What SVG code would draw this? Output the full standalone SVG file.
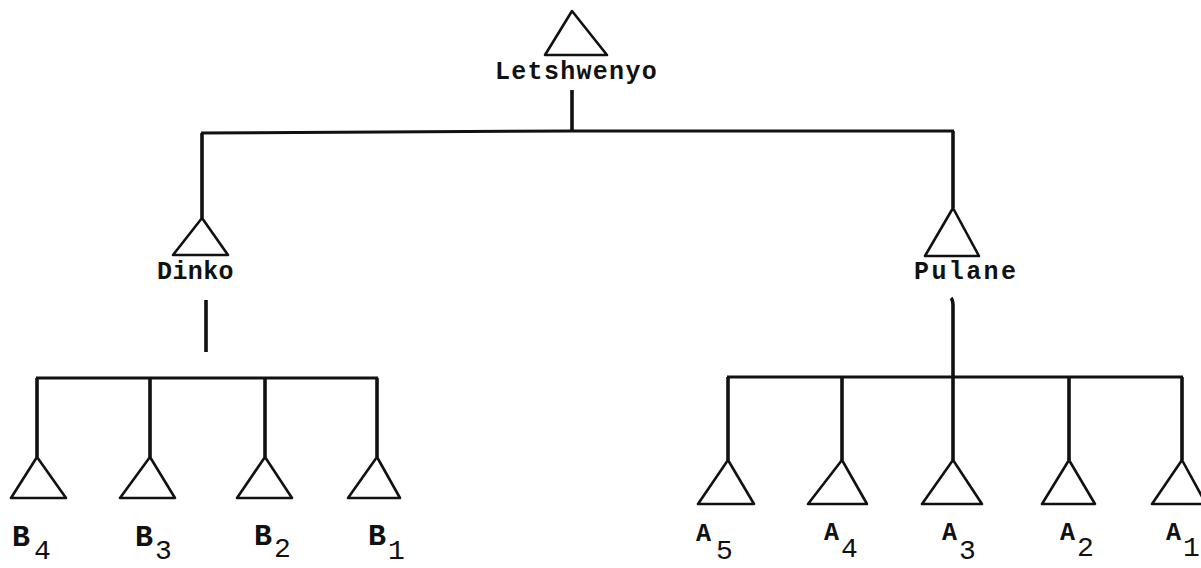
<svg xmlns="http://www.w3.org/2000/svg" width="1201" height="568" viewBox="0 0 1201 568">
  <style>
    .tri { fill: none; stroke: #111; stroke-width: 2.6; stroke-linejoin: round; }
    .line { fill: none; stroke: #111; stroke-width: 3.6; stroke-linecap: butt; }
    .bar { fill: none; stroke: #111; stroke-width: 3; }
    .name { font-family: "Liberation Mono", "DejaVu Sans Mono", monospace; font-size: 25px; font-weight: bold; fill: #111; }
    .let { font-family: "Liberation Mono", "DejaVu Sans Mono", monospace; font-weight: bold; fill: #111; }
    .sub { font-family: "Liberation Mono", "DejaVu Sans Mono", monospace; fill: #111; font-size: 28px; font-weight: normal; }
  </style>
  <rect width="1201" height="568" fill="#fff"/>

  <!-- lineage lines -->
  <g id="connectors">
    <!-- Letshwenyo to his two sons -->
    <path class="line" d="M572 90 V131"/>
    <path class="bar" d="M201 133 L572 131 L954 131"/>
    <path class="line" d="M202 133 V218"/>
    <path class="line" d="M953 131 V208"/>
    <!-- Dinko's house -->
    <path class="line" d="M206 300 V352"/>
    <path class="bar" d="M36 378 H378"/>
    <path class="line" d="M37 378 V457"/>
    <path class="line" d="M150 378 V457"/>
    <path class="line" d="M265 378 V457"/>
    <path class="line" d="M377 378 V457"/>
    <!-- Pulane's house -->
    <path class="line" d="M951 298 Q953 300 953 306 V377"/>
    <path class="bar" d="M727 377 H1183"/>
    <path class="line" d="M728 377 V460"/>
    <path class="line" d="M842 377 V460"/>
    <path class="line" d="M953 377 V460"/>
    <path class="line" d="M1069 377 V460"/>
    <path class="line" d="M1182 377 V460"/>
  </g>

  <g id="letshwenyo">
    <path class="tri" d="M572 11 L607 55 L545 55 Z"/>
    <text class="name" x="495" y="79" letter-spacing="1.3">Letshwenyo</text>
  </g>

  <g id="dinko">
    <path class="tri" d="M202 218 L228 255 L173 255 Z"/>
    <text class="name" x="157" y="279" letter-spacing="0.4">Dinko</text>
  </g>

  <g id="pulane">
    <path class="tri" d="M953 208 L979 256 L925 256 Z"/>
    <text class="name" x="914" y="279" letter-spacing="2.4">Pulane</text>
  </g>

  <g id="b4">
    <path class="tri" d="M37 457 L66 498 L11 498 Z"/>
    <text class="let" font-size="30"><tspan x="12" y="546">B</tspan><tspan class="sub" x="34" y="559">4</tspan></text>
  </g>
  <g id="b3">
    <path class="tri" d="M150 457 L175 498 L120 498 Z"/>
    <text class="let" font-size="30"><tspan x="135" y="546">B</tspan><tspan class="sub" x="155" y="559">3</tspan></text>
  </g>
  <g id="b2">
    <path class="tri" d="M265 457 L292 498 L237 498 Z"/>
    <text class="let" font-size="30"><tspan x="254" y="545">B</tspan><tspan class="sub" x="274" y="557">2</tspan></text>
  </g>
  <g id="b1">
    <path class="tri" d="M377 457 L400 498 L348 498 Z"/>
    <text class="let" font-size="30"><tspan x="368" y="545">B</tspan><tspan class="sub" x="388" y="559">1</tspan></text>
  </g>

  <g id="a5">
    <path class="tri" d="M728 460 L754 504 L698 504 Z"/>
    <text class="let" font-size="25"><tspan x="696" y="541">A</tspan><tspan class="sub" x="716" y="559">5</tspan></text>
  </g>
  <g id="a4">
    <path class="tri" d="M842 460 L867 504 L808 504 Z"/>
    <text class="let" font-size="25"><tspan x="824" y="540">A</tspan><tspan class="sub" x="841" y="557">4</tspan></text>
  </g>
  <g id="a3">
    <path class="tri" d="M953 460 L982 504 L922 504 Z"/>
    <text class="let" font-size="25"><tspan x="942" y="540">A</tspan><tspan class="sub" x="959" y="559">3</tspan></text>
  </g>
  <g id="a2">
    <path class="tri" d="M1069 460 L1095 504 L1042 504 Z"/>
    <text class="let" font-size="25"><tspan x="1060" y="540">A</tspan><tspan class="sub" x="1077" y="556">2</tspan></text>
  </g>
  <g id="a1">
    <path class="tri" d="M1182 460 L1206 504 L1152 504 Z"/>
    <text class="let" font-size="25"><tspan x="1166" y="540">A</tspan><tspan class="sub" x="1183" y="556">1</tspan></text>
  </g>
</svg>
